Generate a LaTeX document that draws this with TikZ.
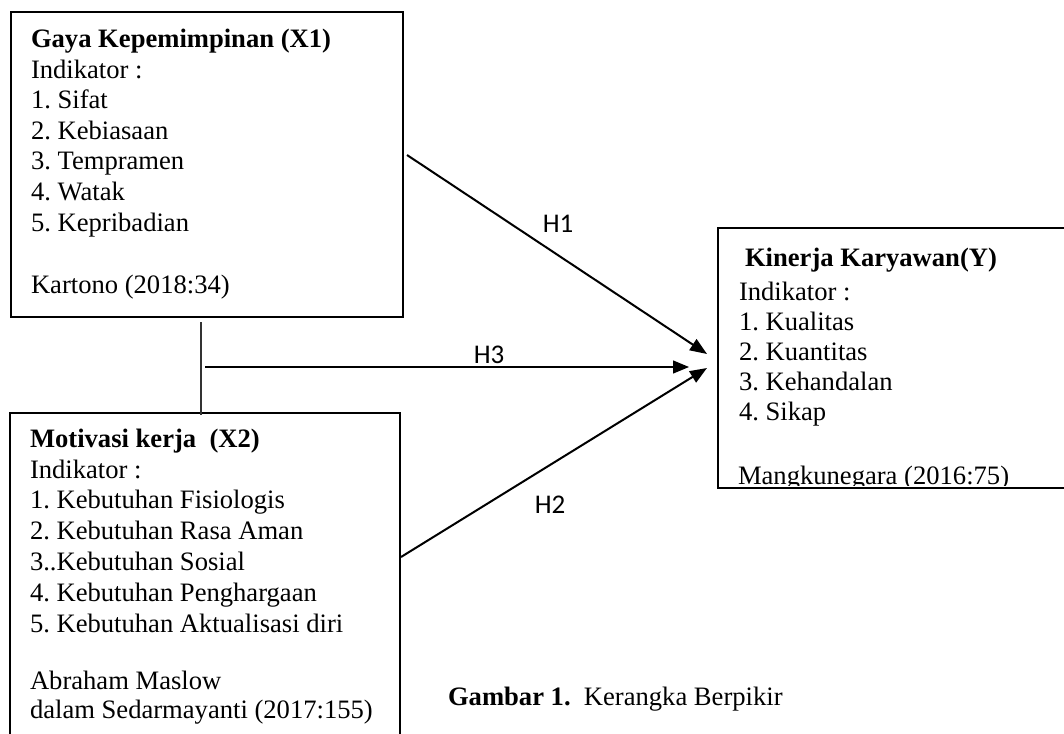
\documentclass[tikz,border=0pt]{standalone}
\usepackage{fontspec}
\setmainfont{Liberation Serif}
\newfontfamily\calib{Carlito}
\usetikzlibrary{arrows.meta,calc}
\frenchspacing
\begin{document}
\frenchspacing
\begin{tikzpicture}[x=1pt,y=-1pt,
  box/.style={draw,line width=2pt,inner sep=0pt,outer sep=0pt,anchor=north west},
  txt/.style={inner sep=0pt,outer sep=0pt,anchor=base west,align=left,font=\fontsize{26.6}{30.6}\selectfont\frenchspacing},
  ttl/.style={txt,font=\fontsize{26.6}{30.6}\selectfont\bfseries\frenchspacing},
  hlab/.style={inner sep=0pt,font=\calib\fontsize{27}{30}\selectfont},
  thick arrow/.style={line width=2pt,-{Triangle[length=17pt,width=13pt]}},
  thin arrow/.style={line width=1.3pt,-{Triangle[length=16pt,width=13pt]}},
  thin line/.style={line width=1.3pt,draw=black!80}]
\useasboundingbox (0,0) rectangle (1064,733);

% boxes
\node[box,minimum width=392.5pt,minimum height=304pt] (x1) at (10.5,12.5) {};
\node[box,minimum width=390.5pt,minimum height=340pt] (x2) at (9.5,412.5) {};
\node[box,minimum width=360pt,minimum height=260.5pt] (y) at (717.5,227.5) {};

% box 1 text (base anchor = last line)
\node[ttl] (x1t) at (31,48) {Gaya Kepemimpinan (X1)};
\node[txt] (x1l) at (31,231) {Indikator :\\1. Sifat\\2. Kebiasaan\\3. Tempramen\\4. Watak\\5. Kepribadian};
\node[txt] (x1s) at (31,293) {Kartono (2018:34)};

% box 2 text
\node[ttl] (x2t) at (30,447) {Motivasi kerja\ \ (X2)};
\node[txt,font=\fontsize{26.6}{30.8}\selectfont\frenchspacing] (x2l) at (30,632) {Indikator :\\1. Kebutuhan Fisiologis\\2. Kebutuhan Rasa Aman\\3..Kebutuhan Sosial\\4. Kebutuhan Penghargaan\\5. Kebutuhan Aktualisasi diri};
\node[txt,font=\fontsize{26.6}{28.5}\selectfont\frenchspacing] (x2s) at (30,718) {Abraham Maslow\\dalam Sedarmayanti (2017:155)};

% box 3 text
\node[ttl] (yt) at (745,266) {Kinerja Karyawan(Y)};
\node[txt,font=\fontsize{26.6}{30}\selectfont\frenchspacing] (yl) at (739,420) {Indikator :\\1. Kualitas\\2. Kuantitas\\3. Kehandalan\\4. Sikap};
\begin{scope}
\clip (719,440) rectangle (1064,485);
\node[txt] (ys) at (738,484) {Mangkunegara (2016:75)};
\end{scope}

% connector points
\coordinate (v1) at (201,322);
\coordinate (v2) at (201,415);
\coordinate (h3s) at (205,367);
\coordinate (h3e) at (689,367);
\coordinate (h1s) at (407,155);
\coordinate (h1e) at (707,354);
\coordinate (h2s) at (401,557);
\coordinate (h2e) at (707,368);

\draw[thin line] (v1) -- (v2);
\draw[thin arrow] (h3s) -- (h3e);
\draw[thick arrow] (h1s) -- (h1e);
\draw[thick arrow] (h2s) -- (h2e);

\node[hlab] (l1) at (558,224) {H1};
\node[hlab] (l3) at (489,355) {H3};
\node[hlab] (l2) at (550,505) {H2};

% caption
\node[txt] (cap) at (448,705) {\textbf{Gambar 1.}\ \ Kerangka Berpikir};
\end{tikzpicture}
\end{document}
